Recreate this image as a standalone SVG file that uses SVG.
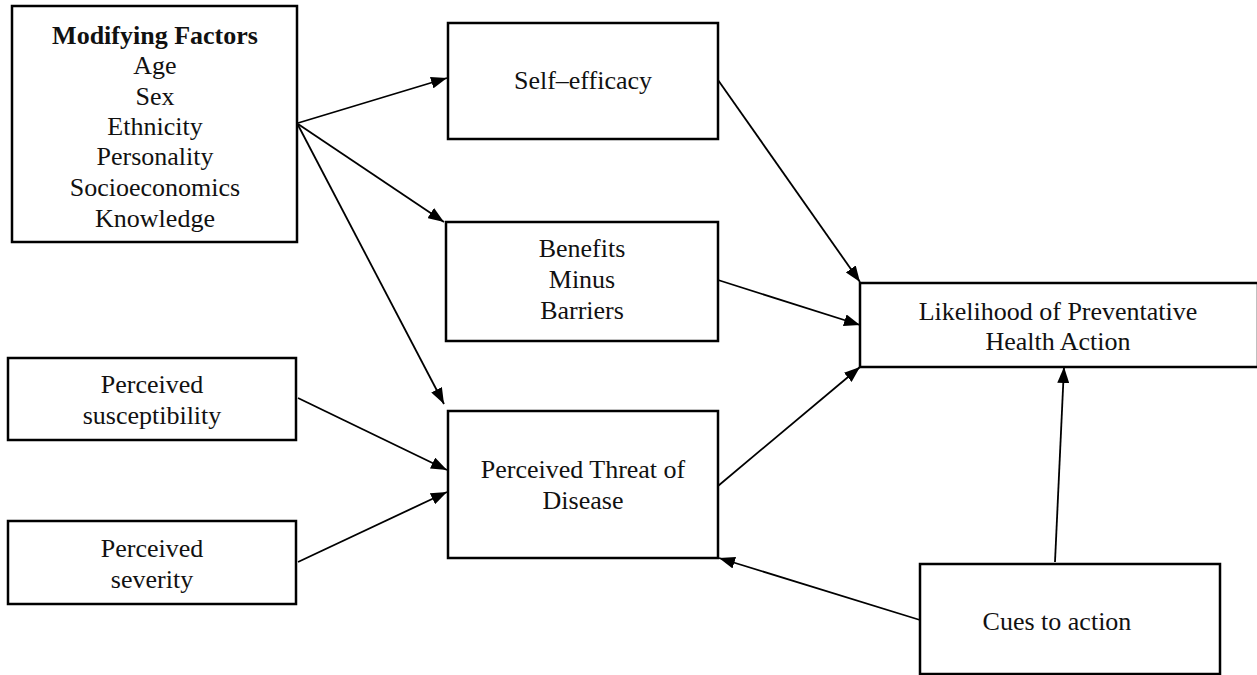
<svg xmlns="http://www.w3.org/2000/svg" width="1257" height="675" viewBox="0 0 1257 675">
<style>
rect.box{fill:#fff;stroke:#000;stroke-width:2.5}
text{font-family:"Liberation Serif","Times New Roman",serif;font-size:26px;fill:#111;text-anchor:middle}
.b{font-weight:bold}
line{stroke:#000;stroke-width:1.8;marker-end:url(#ah)}
</style>
<defs>
<marker id="ah" viewBox="0 0 16 12" refX="16" refY="6" markerWidth="16" markerHeight="12" markerUnits="userSpaceOnUse" orient="auto"><path d="M0,0 L16,6 L0,12 Z" fill="#000"/></marker>
</defs>
<rect width="1257" height="675" fill="#fff"/>
<g id="n-modifying">
<rect class="box" x="12" y="6" width="285" height="236"/>
<text x="155" y="44" class="b">Modifying Factors</text>
<text x="155" y="74">Age</text>
<text x="155" y="105">Sex</text>
<text x="155" y="135">Ethnicity</text>
<text x="155" y="165">Personality</text>
<text x="155" y="196">Socioeconomics</text>
<text x="155" y="227">Knowledge</text>
</g>
<g id="n-selfefficacy">
<rect class="box" x="448" y="23" width="270" height="116"/>
<text x="583" y="89">Self–efficacy</text>
</g>
<g id="n-benefits">
<rect class="box" x="446" y="222" width="272" height="119"/>
<text x="582" y="257">Benefits</text>
<text x="582" y="288">Minus</text>
<text x="582" y="319">Barriers</text>
</g>
<g id="n-likelihood">
<rect class="box" x="860" y="283" width="398" height="84"/>
<text x="1058" y="320">Likelihood of Preventative</text>
<text x="1058" y="350">Health Action</text>
</g>
<g id="n-susceptibility">
<rect class="box" x="8" y="358" width="288" height="82"/>
<text x="152" y="393">Perceived</text>
<text x="152" y="424">susceptibility</text>
</g>
<g id="n-threat">
<rect class="box" x="448" y="411" width="270" height="147"/>
<text x="583" y="478">Perceived Threat of</text>
<text x="583" y="509">Disease</text>
</g>
<g id="n-severity">
<rect class="box" x="8" y="521" width="288" height="83"/>
<text x="152" y="557">Perceived</text>
<text x="152" y="588">severity</text>
</g>
<g id="n-cues">
<rect class="box" x="920" y="564" width="300" height="110"/>
<text x="1057" y="630">Cues to action</text>
</g>
<g id="connectors">
<line x1="298" y1="123" x2="447" y2="78"/>
<line x1="298" y1="124" x2="444" y2="222"/>
<line x1="298" y1="125" x2="444" y2="404"/>
<line x1="718" y1="80" x2="860" y2="282"/>
<line x1="718" y1="280" x2="860" y2="325"/>
<line x1="718" y1="486" x2="860" y2="367"/>
<line x1="298" y1="398" x2="447" y2="470"/>
<line x1="298" y1="562" x2="447" y2="492"/>
<line x1="920" y1="620" x2="719" y2="558"/>
<line x1="1055" y1="562" x2="1064" y2="367"/>
</g>
</svg>
